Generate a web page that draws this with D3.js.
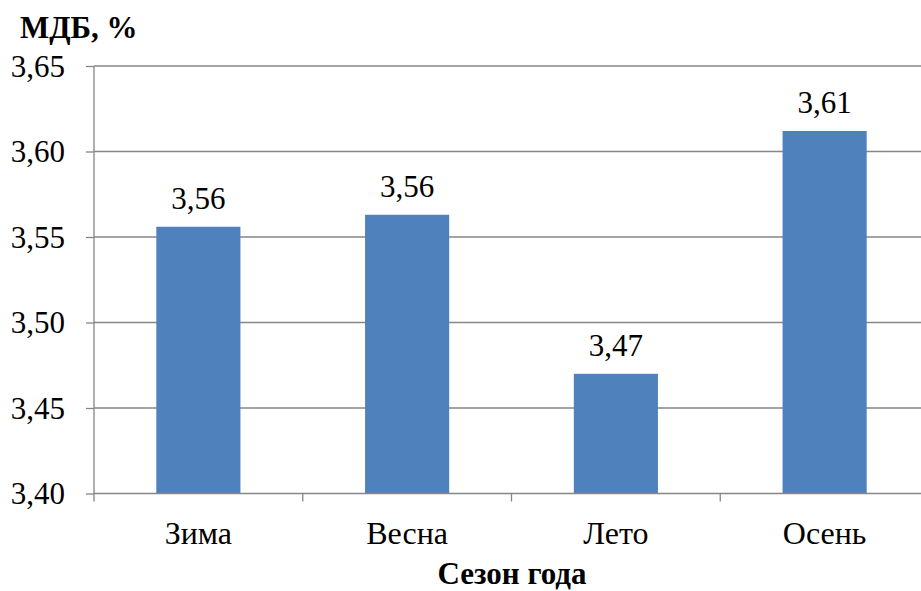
<!DOCTYPE html>
<html>
<head>
<meta charset="utf-8">
<script src="https://cdn.jsdelivr.net/npm/d3@7"></script>
</head>
<body style="margin:0; background:#fff">
<div id="chart"></div>
<script>
// season categories and mean values
var seasons = ['Зима', 'Весна', 'Лето', 'Осень'];
var values = [3.556, 3.563, 3.470, 3.612];
var yTicks = [3.40, 3.45, 3.50, 3.55, 3.60, 3.65];

var W = 921, H = 591;
var mLeft = 94, mRight = 929, mTop = 66, mBottom = 493.5;
var serif = "'Liberation Serif'";

var svg = d3.select('#chart')
    .append('svg')
    .attr('width', W)
    .attr('height', H)
    .style('font-family', serif);

var x = d3.scaleBand().domain(seasons).range([mLeft, mRight]);
var y = d3.scaleLinear().domain([3.40, 3.65]).range([mBottom, mTop]);

var fmt = function (v) { return d3.format('.2f')(v).replace('.', ','); };

// horizontal gridlines
svg.append('g')
    .selectAll('line')
    .data(yTicks.slice(1))
    .enter().append('line')
    .attr('x1', mLeft).attr('x2', mRight)
    .attr('y1', function (d) { return y(d); })
    .attr('y2', function (d) { return y(d); })
    .attr('stroke', '#868686')
    .attr('stroke-width', 1.3);

// bars
var barW = x.bandwidth() * 0.403;
svg.append('g')
    .selectAll('rect')
    .data(values)
    .enter().append('rect')
    .attr('x', function (d, i) { return x(seasons[i]) + (x.bandwidth() - barW) / 2; })
    .attr('y', function (d) { return y(d); })
    .attr('width', barW)
    .attr('height', function (d) { return mBottom - y(d); })
    .attr('fill', '#4F81BD');

// value labels
svg.append('g')
    .selectAll('text')
    .data(values)
    .enter().append('text')
    .attr('x', function (d, i) { return x(seasons[i]) + x.bandwidth() / 2; })
    .attr('y', function (d) { return y(d) - 18; })
    .attr('text-anchor', 'middle')
    .style('font-family', serif)
    .style('font-size', '31px')
    .text(fmt);

// y axis
var yAxis = svg.append('g')
    .attr('transform', 'translate(' + mLeft + ',0)')
    .call(d3.axisLeft(y).tickValues(yTicks).tickSize(8).tickPadding(21).tickFormat(fmt));
yAxis.select('.domain').remove();
yAxis.append('line')
    .attr('y1', mTop).attr('y2', mBottom + 8)
    .attr('stroke', '#868686').attr('stroke-width', 1.3);
yAxis.selectAll('line').attr('stroke', '#868686').attr('stroke-width', 1.3);
yAxis.selectAll('text')
    .style('font-family', serif)
    .style('font-size', '31px')
    .attr('fill', '#000')
    .attr('dy', '0.33em');

// x axis with ticks at category boundaries
var xAxis = svg.append('g')
    .attr('transform', 'translate(0,' + mBottom + ')');
xAxis.append('line')
    .attr('x1', mLeft).attr('x2', mRight)
    .attr('stroke', '#868686').attr('stroke-width', 1.3);
xAxis.selectAll('.bt')
    .data(seasons.slice(1))
    .enter().append('line')
    .attr('class', 'bt')
    .attr('x1', function (d) { return x(d); })
    .attr('x2', function (d) { return x(d); })
    .attr('y1', 0).attr('y2', 8)
    .attr('stroke', '#868686').attr('stroke-width', 1.3);
xAxis.selectAll('.cl')
    .data(seasons)
    .enter().append('text')
    .attr('class', 'cl')
    .attr('x', function (d) { return x(d) + x.bandwidth() / 2; })
    .attr('y', 50)
    .attr('text-anchor', 'middle')
    .style('font-family', serif)
    .style('font-size', '32px')
    .text(function (d) { return d; });

// axis titles
svg.append('text')
    .attr('x', 20).attr('y', 38)
    .style('font-family', serif)
    .style('font-size', '31px').style('font-weight', 'bold')
    .text('МДБ, %');

svg.append('text')
    .attr('x', 512).attr('y', 584)
    .attr('text-anchor', 'middle')
    .style('font-family', serif)
    .style('font-size', '31px').style('font-weight', 'bold')
    .text('Сезон года');
</script>
</body>
</html>
